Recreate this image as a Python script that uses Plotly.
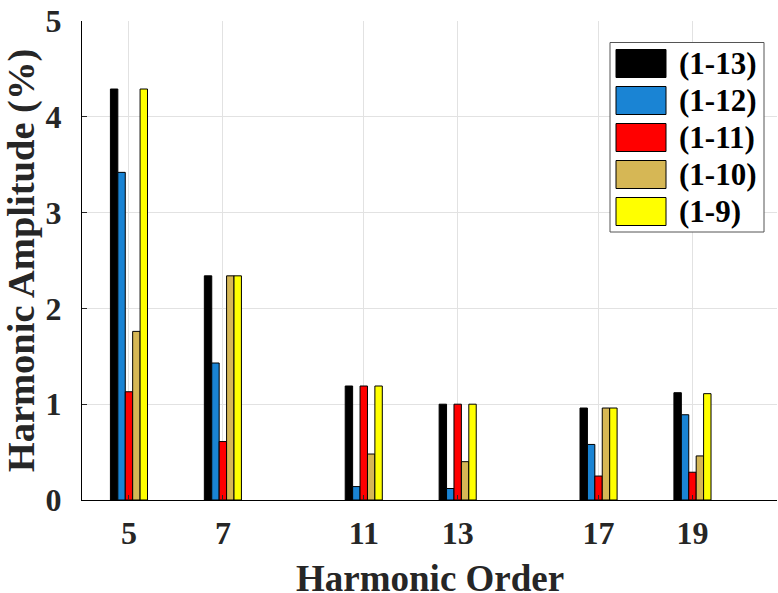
import plotly.graph_objects as go

# Harmonic spectrum for five winding configurations
harmonic_orders = ["5", "7", "11", "13", "17", "19"]
series_names = ["(1-13)", "(1-12)", "(1-11)", "(1-10)", "(1-9)"]
amp_1_13 = [4.29, 2.34, 1.19, 1.00, 0.96, 1.12]
amp_1_12 = [3.42, 1.43, 0.14, 0.12, 0.58, 0.89]
amp_1_11 = [1.13, 0.61, 1.19, 1.00, 0.25, 0.29]
amp_1_10 = [1.76, 2.34, 0.48, 0.40, 0.96, 0.46]
amp_1_9 = [4.29, 2.34, 1.19, 1.00, 0.96, 1.11]
series_values = [amp_1_13, amp_1_12, amp_1_11, amp_1_10, amp_1_9]

# slot index of each harmonic along the axis (odd non-triplen orders)
slots = [1, 3, 6, 8, 11, 13]
colors = ["#000000", "#1a84d4", "#ff0000", "#d6b755", "#ffff00"]

W, H = 778, 593
ML, MR, MT, MB = 82, 1, 21, 93
PW, PH = W - ML - MR, H - MT - MB

FONT = "Liberation Serif, Times New Roman, serif"
TXT = "#262626"

bar_w = 0.158
group_w = bar_w * len(series_names)

fig = go.Figure()
for i, (name, vals, col) in enumerate(zip(series_names, series_values, colors)):
    fig.add_trace(go.Bar(
        x=slots, y=vals, name=name,
        width=bar_w, offset=-group_w / 2 + i * bar_w,
        marker=dict(color=col, line=dict(color="#000000", width=1)),
        showlegend=False,
    ))


def px_x(p):
    return (p - ML) / PW


def px_y(p):
    return (H - MB - p) / PH


# boxed legend with large swatches
shapes = []
annotations = []
box_l, box_r, box_t = 610, 764, 42.5
row0, pitch, sw_h, sw_w = 49.5, 37, 28, 50
box_b = row0 + pitch * (len(series_names) - 1) + sw_h + 6.5
shapes.append(dict(type="rect", xref="paper", yref="paper",
                   x0=px_x(box_l), x1=px_x(box_r), y0=px_y(box_b), y1=px_y(box_t),
                   line=dict(color="#555555", width=1), fillcolor="white", layer="above"))
for i, (name, col) in enumerate(zip(series_names, colors)):
    top = row0 + i * pitch
    shapes.append(dict(type="rect", xref="paper", yref="paper",
                       x0=px_x(616), x1=px_x(616 + sw_w), y0=px_y(top + sw_h), y1=px_y(top),
                       line=dict(color="#000000", width=1), fillcolor=col, layer="above"))
    annotations.append(dict(xref="paper", yref="paper", x=px_x(677), y=px_y(top + sw_h / 2),
                            xanchor="left", yanchor="middle", showarrow=False, text=name,
                            font=dict(family=FONT, size=31, color="#000000", weight="bold")))

# x-axis title placed below the tick labels
annotations.append(dict(xref="paper", yref="paper", x=0.5, y=px_y(578),
                        xanchor="center", yanchor="middle", showarrow=False,
                        text="Harmonic Order",
                        font=dict(family=FONT, size=37, color=TXT, weight="bold")))

fig.update_layout(
    width=W, height=H,
    margin=dict(l=ML, r=MR, t=MT, b=MB),
    paper_bgcolor="white", plot_bgcolor="white",
    barmode="overlay",
    font=dict(family=FONT, color=TXT, weight="bold"),
    shapes=shapes, annotations=annotations,
    xaxis=dict(
        range=[0, 14.8], tickmode="array", tickvals=slots, ticktext=harmonic_orders,
        showgrid=True, gridcolor="#e2e2e2", gridwidth=1, zeroline=False,
        showline=True, linecolor="#000000", linewidth=1,
        ticks="inside", ticklen=5, tickcolor="#262626",
        tickfont=dict(family=FONT, size=32, color=TXT, weight="bold"),
        ticklabelstandoff=5, automargin=False,
    ),
    yaxis=dict(
        range=[0, 5], dtick=1,
        showgrid=True, gridcolor="#e2e2e2", gridwidth=1, zeroline=False,
        showline=True, linecolor="#000000", linewidth=1,
        ticks="inside", ticklen=5, tickcolor="#262626",
        tickfont=dict(family=FONT, size=32, color=TXT, weight="bold"),
        ticklabelstandoff=13, automargin=False,
        title=dict(text="Harmonic Amplitude (%)", standoff=0,
                   font=dict(family=FONT, size=38.5, color=TXT, weight="bold")),
    ),
)

fig.write_html("out.html")
